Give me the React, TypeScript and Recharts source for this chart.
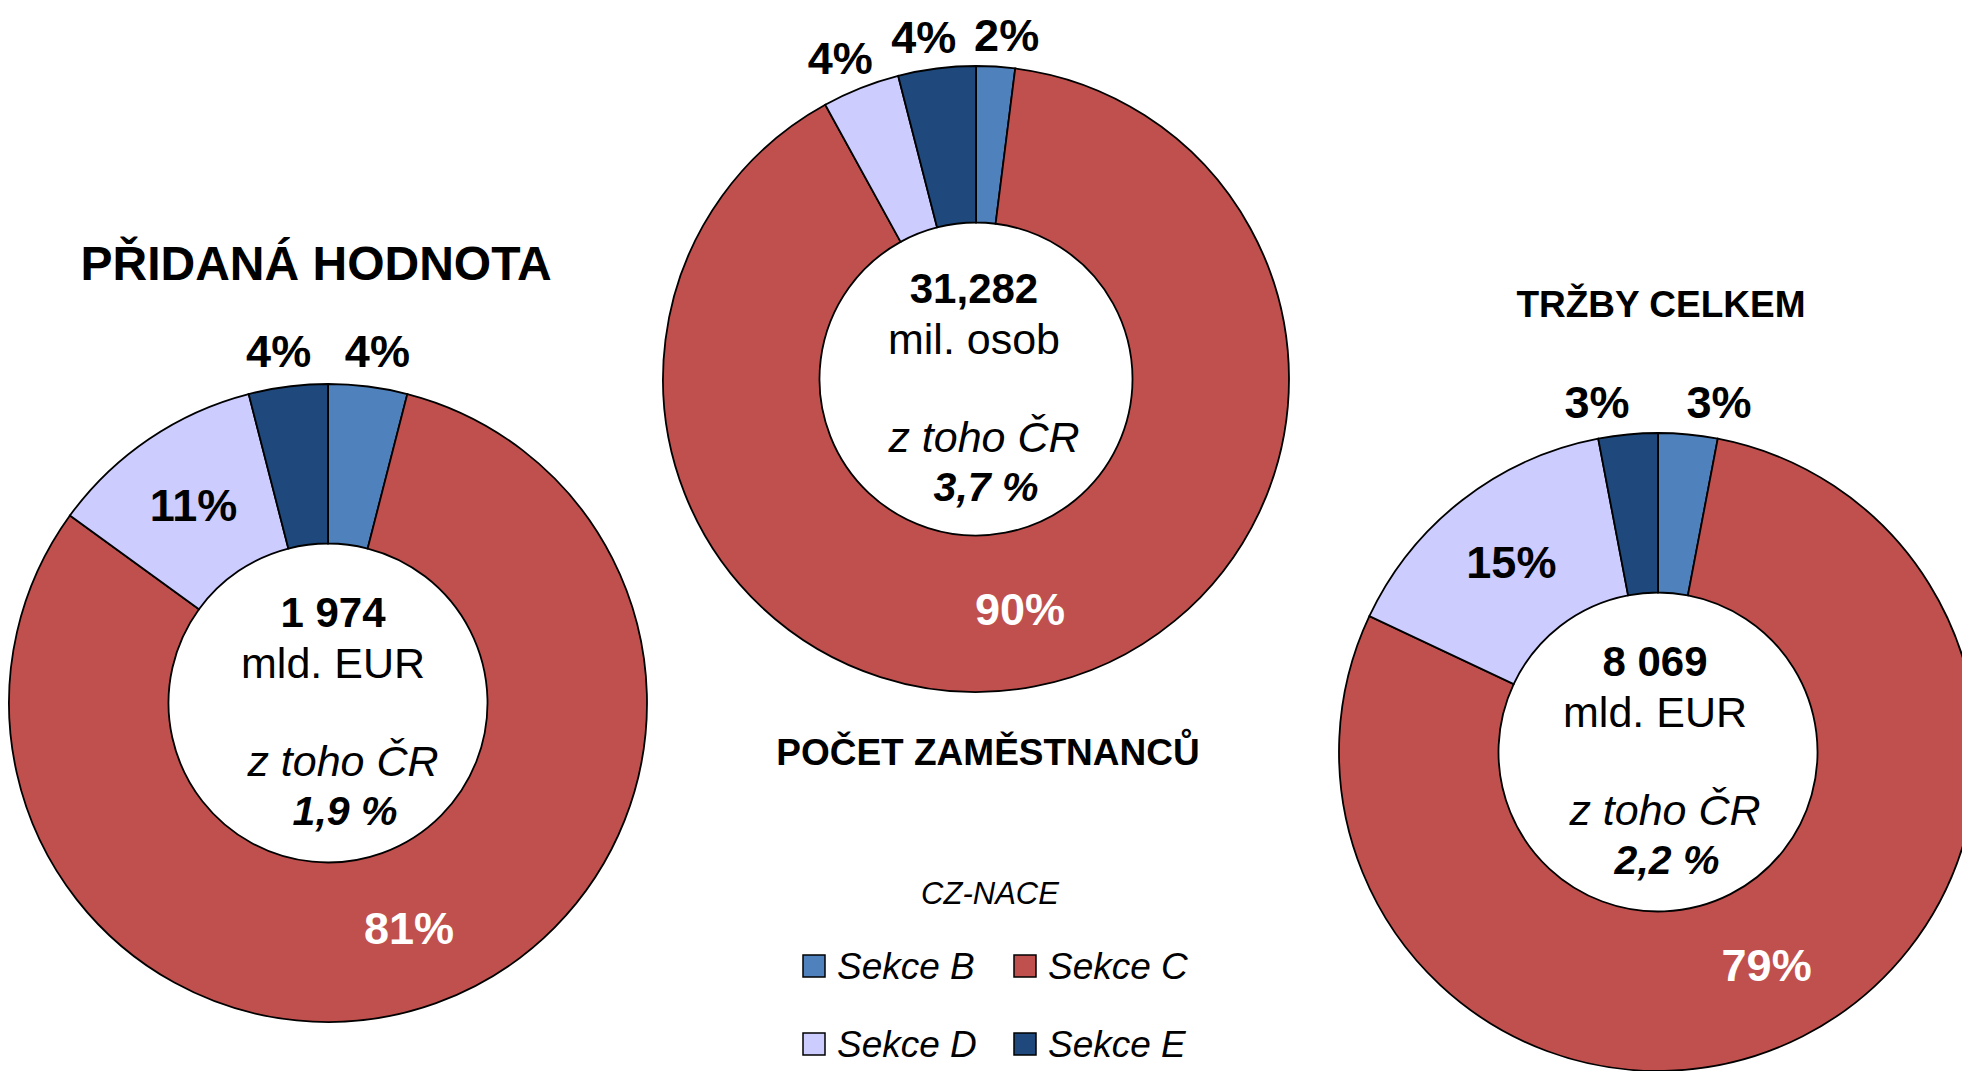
import React from 'react';
import { PieChart, Pie, Cell } from 'recharts';

const sections = ['Sekce B', 'Sekce C', 'Sekce D', 'Sekce E'];
const sectionColors = ['#4F81BD', '#C0504D', '#CCCCFF', '#1F497D'];

const valueAddedShares = [4, 81, 11, 4];
const employeeShares = [2, 90, 4, 4];
const turnoverShares = [3, 79, 15, 3];

const chartTitles = ['PŘIDANÁ HODNOTA', 'POČET ZAMĚSTNANCŮ', 'TRŽBY CELKEM'];
const totals = ['1 974', '31,282', '8 069'];
const units = ['mld. EUR', 'mil. osob', 'mld. EUR'];
const czLabel = 'z toho ČR';
const czShares = ['1,9 %', '3,7 %', '2,2 %'];
const legendTitle = 'CZ-NACE';

const FONT = '"Liberation Sans", Arial, Helvetica, sans-serif';

const toData = (vals: number[]) => vals.map((v, i) => ({ name: sections[i], value: v }));

const pies = [
  { data: toData(valueAddedShares), cx: 328, cy: 703, r: 319, outFactor: 1.11, spread: 5, textDx: 5,
    title: { x: 316, y: 263, size: 48 } },
  { data: toData(employeeShares), cx: 976, cy: 379, r: 313, outFactor: 1.1, spread: 9, textDx: -2,
    title: { x: 988, y: 752, size: 37 } },
  { data: toData(turnoverShares), cx: 1658, cy: 752, r: 319, outFactor: 1.1, spread: 28, textDx: -3,
    title: { x: 1661, y: 304, size: 37 } },
];

const makeLabel = (outFactor: number, spread: number) => (props: any) => {
  const { cx, cy, midAngle, innerRadius, outerRadius, value, index } = props;
  const RAD = Math.PI / 180;
  const outside = value < 5;
  const r = outside ? outerRadius * outFactor : (innerRadius + outerRadius) / 2;
  const c = Math.cos(-midAngle * RAD);
  let x = cx + r * c;
  const y = cy + r * Math.sin(-midAngle * RAD);
  if (outside) x += (c >= 0 ? 1 : -1) * spread;
  return (
    <text x={x} y={y} textAnchor="middle" dominantBaseline="central"
      fontFamily={FONT} fontSize={45} fontWeight="bold" fill={index === 1 ? '#ffffff' : '#000000'}>
      {value}%
    </text>
  );
};

export default function App() {
  return (
    <div style={{ position: 'absolute', left: 0, top: 0, width: 1962, height: 1071, overflow: 'hidden', background: '#fff' }}>
      <PieChart width={1962} height={1071} margin={{ top: 0, right: 0, bottom: 0, left: 0 }}>
        {pies.map((p, k) => (
          <Pie key={k} data={p.data} dataKey="value" nameKey="name" cx={p.cx} cy={p.cy}
            outerRadius={p.r} innerRadius={p.r * 0.5} startAngle={90} endAngle={-270}
            stroke="#000" strokeWidth={1.8} isAnimationActive={false} labelLine={false}
            label={makeLabel(p.outFactor, p.spread)}>
            {p.data.map((d, i) => <Cell key={i} fill={sectionColors[i]} />)}
          </Pie>
        ))}
      </PieChart>
      <svg width={1962} height={1071} style={{ position: 'absolute', left: 0, top: 0, pointerEvents: 'none' }}>
        {pies.map((p, k) => (
          <g key={k} fontFamily={FONT} fill="#000">
            <text x={p.title.x} y={p.title.y} textAnchor="middle" dominantBaseline="central"
              fontSize={p.title.size} fontWeight="bold">{chartTitles[k]}</text>
            <text x={p.cx + p.textDx} y={p.cy - 91} textAnchor="middle" dominantBaseline="central"
              fontSize={42} fontWeight="bold">{totals[k]}</text>
            <text x={p.cx + p.textDx} y={p.cy - 40} textAnchor="middle" dominantBaseline="central"
              fontSize={43}>{units[k]}</text>
            <text x={p.cx + p.textDx + 10} y={p.cy + 58} textAnchor="middle" dominantBaseline="central"
              fontSize={43} fontStyle="italic">{czLabel}</text>
            <text x={p.cx + p.textDx + 12} y={p.cy + 108} textAnchor="middle" dominantBaseline="central"
              fontSize={41} fontStyle="italic" fontWeight="bold">{czShares[k]}</text>
          </g>
        ))}
        <g fontFamily={FONT} fill="#000">
          <text x={990} y={893} textAnchor="middle" dominantBaseline="central" fontSize={31} fontStyle="italic">{legendTitle}</text>
          {sections.map((s, i) => {
            const col = i % 2;
            const row = Math.floor(i / 2);
            const bx = col === 0 ? 803 : 1014;
            const by = row === 0 ? 955 : 1033;
            return (
              <g key={s}>
                <rect x={bx} y={by} width={22} height={22} fill={sectionColors[i]} stroke="#000" strokeWidth={1.5} />
                <text x={bx + 34} y={by + 11} dominantBaseline="central" fontSize={37} fontStyle="italic">{s}</text>
              </g>
            );
          })}
        </g>
      </svg>
    </div>
  );
}
